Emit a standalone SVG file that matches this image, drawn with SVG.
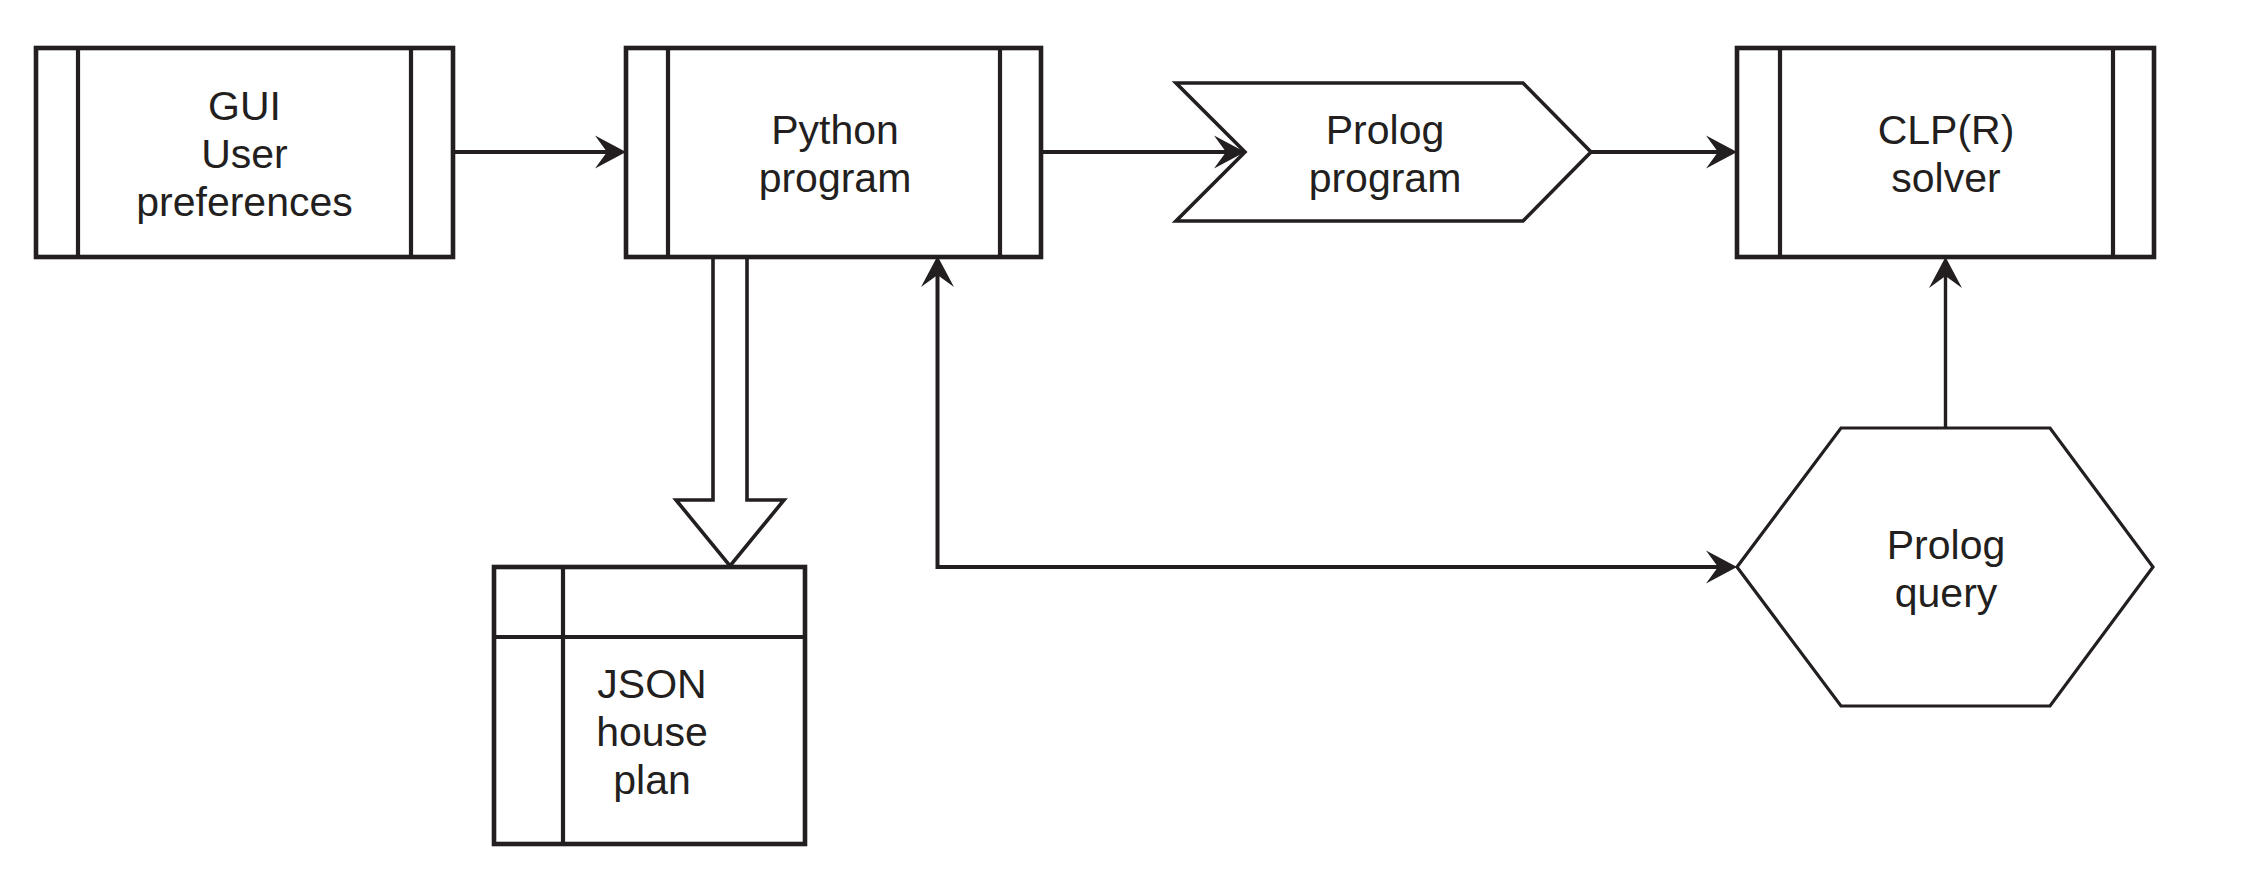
<svg xmlns="http://www.w3.org/2000/svg" width="2246" height="873" viewBox="0 0 2246 873">
<style>
  .box { fill: #ffffff; stroke: #231f20; stroke-width: 4.6; }
  .div { fill: none; stroke: #231f20; stroke-width: 4.2; }
  .shape { fill: #ffffff; stroke: #231f20; stroke-width: 3.6; stroke-linejoin: miter; }
  .hex { fill: #ffffff; stroke: #231f20; stroke-width: 3.2; }
  .conn { fill: none; stroke: #231f20; stroke-width: 4; }
  .thin { fill: none; stroke: #231f20; stroke-width: 3.4; }
  .block { fill: #ffffff; stroke: #231f20; stroke-width: 3.6; stroke-linejoin: miter; }
  text { font-family: "Liberation Sans", Arial, Helvetica, sans-serif; font-size: 41px; fill: #231f20; text-anchor: middle; }
</style>
<defs>
  <marker id="arrow" viewBox="-33 -18 36 36" markerWidth="36" markerHeight="36" refX="-10" refY="0" markerUnits="userSpaceOnUse" orient="auto-start-reverse">
    <path d="M0,0 L-31,-16.5 L-19,0 L-31,16.5 Z" fill="#231f20"/>
  </marker>
</defs>
<rect width="2246" height="873" fill="#ffffff"/>

<g id="connectors">
  <line class="conn" x1="453" y1="152" x2="616" y2="152" marker-end="url(#arrow)"/>
  <line class="conn" x1="1041" y1="152" x2="1235" y2="152" marker-end="url(#arrow)"/>
  <line class="conn" x1="1591" y1="152" x2="1727" y2="152" marker-end="url(#arrow)"/>
  <path class="conn" d="M937.5,266 V567 H1727" marker-start="url(#arrow)" marker-end="url(#arrow)"/>
  <line class="thin" x1="1945.5" y1="428" x2="1945.5" y2="267" marker-end="url(#arrow)"/>
  <polygon class="block" points="713,257 713,500 676,500 730,566 784,500 747,500 747,257"/>
</g>

<g id="gui">
  <rect class="box" x="36" y="48" width="417" height="209"/>
  <line class="div" x1="78" y1="48" x2="78" y2="257"/>
  <line class="div" x1="411" y1="48" x2="411" y2="257"/>
  <text x="244.5" y="120">GUI</text>
  <text x="244.5" y="168">User</text>
  <text x="244.5" y="216">preferences</text>
</g>

<g id="python">
  <rect class="box" x="626" y="48" width="415" height="209"/>
  <line class="div" x1="668" y1="48" x2="668" y2="257"/>
  <line class="div" x1="1000" y1="48" x2="1000" y2="257"/>
  <text x="835" y="144">Python</text>
  <text x="835" y="192">program</text>
</g>

<g id="prolog-program">
  <polygon class="shape" points="1176,83 1523,83 1591,152 1523,221 1176,221 1245,152"/>
  <text x="1385" y="144">Prolog</text>
  <text x="1385" y="192">program</text>
</g>

<g id="clpr">
  <rect class="box" x="1737" y="48" width="417" height="209"/>
  <line class="div" x1="1780" y1="48" x2="1780" y2="257"/>
  <line class="div" x1="2113" y1="48" x2="2113" y2="257"/>
  <text x="1946" y="144">CLP(R)</text>
  <text x="1946" y="192">solver</text>
</g>

<g id="prolog-query">
  <polygon class="hex" points="1737,567 1841,428 2050,428 2153,567 2050,706 1841,706"/>
  <text x="1946" y="559">Prolog</text>
  <text x="1946" y="607">query</text>
</g>

<g id="json">
  <rect class="box" x="494" y="567" width="311" height="277"/>
  <line class="div" x1="563" y1="567" x2="563" y2="844"/>
  <line class="div" x1="494" y1="637" x2="805" y2="637"/>
  <text x="652" y="698">JSON</text>
  <text x="652" y="746">house</text>
  <text x="652" y="794">plan</text>
</g>
</svg>
